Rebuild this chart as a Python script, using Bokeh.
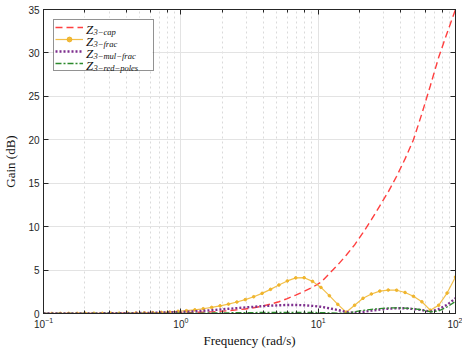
from bokeh.plotting import figure
from bokeh.models import (ColumnDataSource, LogAxis, LinearAxis, Label, Legend,
                          LegendItem, FixedTicker, Range1d, CustomJSTickFormatter,
                          BoxAnnotation)
from bokeh.embed import file_html
from bokeh.resources import INLINE

# Frequency grid (rad/s): 50 log-spaced points from 0.1 to 100
freq = [10 ** (-1 + 3 * k / 49) for k in range(50)]

# Gain (dB) of each reduced model
z3_cap = [0.00, 0.00, 0.00, 0.00, 0.01, 0.01, 0.01, 0.01, 0.02, 0.02,
          0.03, 0.03, 0.04, 0.05, 0.06, 0.07, 0.09, 0.11, 0.13, 0.16,
          0.19, 0.24, 0.32, 0.42, 0.52, 0.66, 0.85, 1.08, 1.35, 1.72,
          2.12, 2.55, 3.02, 3.60, 4.60, 5.60, 6.70, 7.90, 9.30, 10.80,
          12.40, 14.00, 15.80, 17.80, 20.00, 23.00, 26.20, 29.50, 32.30, 35.00]

z3_frac = [0.00, 0.00, 0.01, 0.01, 0.01, 0.01, 0.02, 0.02, 0.03, 0.03,
           0.04, 0.05, 0.07, 0.10, 0.13, 0.18, 0.25, 0.32, 0.42, 0.55,
           0.70, 0.88, 1.08, 1.32, 1.60, 1.93, 2.32, 2.78, 3.28, 3.75,
           4.10, 4.12, 3.70, 3.00, 2.05, 1.05, 0.15, 0.95, 1.75, 2.25,
           2.58, 2.70, 2.68, 2.42, 1.98, 1.35, 0.38, 0.95, 2.35, 4.20]

z3_mul_frac = [0.00, 0.00, 0.01, 0.01, 0.01, 0.01, 0.02, 0.02, 0.03, 0.03,
               0.04, 0.05, 0.06, 0.08, 0.10, 0.13, 0.16, 0.20, 0.25, 0.31,
               0.38, 0.46, 0.54, 0.62, 0.70, 0.77, 0.84, 0.90, 0.95, 0.98,
               0.98, 0.95, 0.88, 0.77, 0.60, 0.40, 0.18, 0.08, 0.18, 0.33,
               0.46, 0.55, 0.60, 0.60, 0.52, 0.40, 0.22, 0.50, 1.00, 1.75]

z3_red_poles = [0.00, 0.00, 0.00, 0.00, 0.00, 0.01, 0.01, 0.01, 0.01, 0.01,
                0.01, 0.02, 0.02, 0.02, 0.02, 0.02, 0.03, 0.03, 0.04, 0.05,
                0.06, 0.07, 0.08, 0.09, 0.10, 0.11, 0.12, 0.13, 0.13, 0.14,
                0.14, 0.13, 0.12, 0.10, 0.07, 0.04, 0.02, 0.20, 0.35, 0.48,
                0.57, 0.63, 0.65, 0.62, 0.55, 0.42, 0.20, 0.30, 0.75, 1.40]

y_ticks = [0, 5, 10, 15, 20, 25, 30, 35]

legend_subscripts = ["3\u2212cap", "3\u2212frac", "3\u2212mul\u2212frac", "3\u2212red\u2212poles"]

source = ColumnDataSource(dict(f=freq, cap=z3_cap, frac=z3_frac,
                               mul=z3_mul_frac, red=z3_red_poles))

AX = "#262626"
p = figure(width=462, height=350, x_axis_type="log",
           x_range=Range1d(0.1, 100), y_range=Range1d(0, 35),
           x_axis_label="Frequency (rad/s)", y_axis_label="Gain (dB)",
           output_backend="svg", toolbar_location=None,
           min_border_left=41, min_border_right=7,
           min_border_top=9, min_border_bottom=35)
p.outline_line_color = AX
p.outline_line_width = 1


def style_axis(ax):
    ax.axis_line_color = AX
    ax.major_tick_line_color = AX
    ax.minor_tick_line_color = AX
    ax.major_tick_in = 5
    ax.major_tick_out = 0
    ax.minor_tick_in = 3
    ax.minor_tick_out = 0
    ax.major_label_text_color = AX
    ax.major_label_text_font = "Liberation Sans"
    ax.major_label_text_font_size = "10px"
    ax.axis_label_text_font = "Liberation Serif"
    ax.axis_label_text_font_style = "normal"
    ax.axis_label_text_font_size = "13px"
    ax.axis_label_text_color = "#111111"


xb = p.xaxis[0]
style_axis(xb)
xb.major_label_standoff = 3
xb.axis_label_standoff = 2

yl = p.yaxis[0]
yl.ticker = FixedTicker(ticks=y_ticks)
style_axis(yl)
yl.minor_tick_in = 0
yl.major_label_standoff = 4
yl.axis_label_standoff = 7

blank = CustomJSTickFormatter(code="return ''")

xt = LogAxis(formatter=blank)
style_axis(xt)
xt.major_label_standoff = 0
p.add_layout(xt, "above")

yr = LinearAxis(ticker=FixedTicker(ticks=y_ticks), formatter=blank)
style_axis(yr)
yr.minor_tick_in = 0
yr.major_label_standoff = 0
p.add_layout(yr, "right")

# Grid
p.xgrid.grid_line_color = "#e3e3e3"
p.xgrid.minor_grid_line_color = "#dadada"
p.xgrid.minor_grid_line_dash = "2 3"
p.ygrid.ticker = yl.ticker
p.ygrid.grid_line_color = "#e3e3e3"

# Curves
r_cap = p.line("f", "cap", source=source, line_color="#ff2a2a", line_width=1.4,
               line_dash="7 4", line_alpha=0.9)
r_frac = p.line("f", "frac", source=source, line_color="#f0b429", line_width=1.2,
                line_alpha=0.85)
r_frac_m = p.scatter("f", "frac", source=source, marker="circle", size=2.6,
                     fill_color="#f0b429", line_color="#f0b429", fill_alpha=0.9)
r_mul = p.line("f", "mul", source=source, line_color="#7e2f8e", line_width=2.4,
               line_dash="2 2")
r_red = p.line("f", "red", source=source, line_color="#2c8a2c", line_width=1.3,
               line_dash="6 2 2 2")

# Legend box geometry (pixels, relative to the plot frame)
LEG_MARGIN, LEG_PAD, GLYPH_W, ROW_H, LABEL_W = 10, 1, 28, 12, 69
FRAME_H = 306
leg_w = 2 * LEG_PAD + GLYPH_W + LABEL_W
leg_h = 2 * LEG_PAD + 4 * ROW_H + 2

# White backing under the legend, then the label text, then the legend samples
p.add_layout(BoxAnnotation(left=LEG_MARGIN, right=LEG_MARGIN + leg_w,
                           top=FRAME_H - LEG_MARGIN, bottom=FRAME_H - LEG_MARGIN - leg_h,
                           left_units="screen", right_units="screen",
                           top_units="screen", bottom_units="screen",
                           fill_color="white", fill_alpha=1, line_color=None))

for i, sub in enumerate(legend_subscripts):
    base_y = FRAME_H - LEG_MARGIN - LEG_PAD - ROW_H * i - 10.5
    p.add_layout(Label(x=42.5, y=base_y, x_units="screen", y_units="screen",
                       text="Z", text_font="Liberation Serif", text_font_style="italic",
                       text_font_size="13px", text_color="#111111",
                       text_baseline="alphabetic"))
    p.add_layout(Label(x=50, y=base_y - 2.5, x_units="screen", y_units="screen",
                       text=sub, text_font="Liberation Serif", text_font_style="italic",
                       text_font_size="8.5px", text_color="#111111",
                       text_baseline="alphabetic"))

items = [LegendItem(label=" ", renderers=[r_cap]),
         LegendItem(label=" ", renderers=[r_frac, r_frac_m]),
         LegendItem(label=" ", renderers=[r_mul]),
         LegendItem(label=" ", renderers=[r_red])]
leg = Legend(items=items, location="top_left", margin=LEG_MARGIN, padding=LEG_PAD,
             spacing=0, glyph_width=GLYPH_W, glyph_height=ROW_H, label_height=ROW_H,
             label_width=LABEL_W, label_standoff=0, label_text_font_size="8px",
             border_line_color=AX, border_line_width=1,
             background_fill_alpha=0)
p.add_layout(leg)

open("out.html", "w").write(file_html(p, INLINE))
